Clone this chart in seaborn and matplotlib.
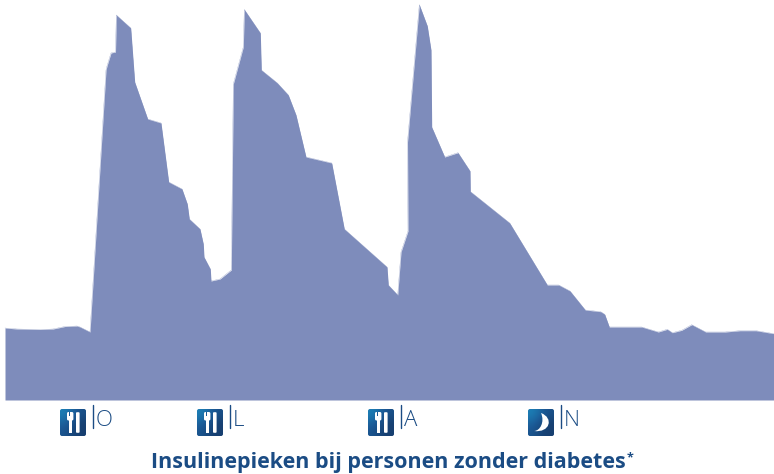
import numpy as np
import pandas as pd
import matplotlib
matplotlib.use('Agg')
import matplotlib.pyplot as plt
from matplotlib.patches import FancyBboxPatch, PathPatch, Rectangle
from matplotlib.path import Path
import seaborn as sns

# curve: time position and insulin level (no units in the source)
time_pos = [5, 17, 40, 53, 65, 77, 80, 90, 106, 107, 111, 115.5, 116.3, 130.7, 134.7, 147.7, 161,
            168.7, 182, 187.3, 189.3, 200, 203.3, 204, 210.3, 211, 220, 231.3, 233.3, 243.3, 244.3,
            260.3, 261.3, 277.3, 288.3, 296, 306, 331.7, 344.3, 387, 388.3, 397.7, 401, 408, 407.5,
            419.3, 427.3, 431, 431.7, 444.7, 458, 470, 470.3, 509.7, 547.3, 558.7, 570, 585.3,
            600.7, 604.7, 609.3, 641.7, 658.3, 667.3, 672.3, 681.7, 691.7, 705.7, 725, 740, 756, 774]
insulin = [72, 71, 70.5, 71, 73.5, 74, 73, 68, 330, 334, 347, 348, 385, 372, 318, 281, 277,
           218, 211, 196, 181, 171, 156, 143, 131, 119, 121, 130, 316, 353, 390.5,
           367, 330, 317, 305, 285, 243, 237, 171, 133, 115, 105, 148, 169, 258,
           395.3, 374, 350, 273, 243, 247.3, 229, 208.5, 177, 115, 115, 109, 90,
           88.3, 85.7, 73, 73, 68, 70.7, 67.3, 69.7, 75.3, 68, 68, 69.3, 69.3, 66.3]

meal_labels = ['O', 'L', 'A', 'N']
meal_icons = ['meal', 'meal', 'meal', 'moon']
icon_left = [60, 197, 368, 528]

title = 'Insulinepieken bij personen zonder diabetes'

fill_color = '#7e8cbb'
text_color = '#1b4c84'

sns.set_theme(style='white')
plt.rcParams['font.family'] = ['Open Sans', 'DejaVu Sans']

fig = plt.figure(figsize=(7.74, 4.74), dpi=100)

# chart area: level 0 sits at pixel row 400, level 400 at the top edge
ax = fig.add_axes([0, 74 / 474, 1, 400 / 474])
df = pd.DataFrame({'time': time_pos, 'insulin': insulin})
sns.lineplot(data=df, x='time', y='insulin', ax=ax, sort=False, estimator=None,
             color=fill_color, linewidth=0.2, zorder=1)
ax.fill_between(df['time'], df['insulin'], 0, color=fill_color, linewidth=0, zorder=2)
ax.set_xlim(0, 774)
ax.set_ylim(0, 400)
ax.axis('off')

# overlay in pixel coordinates for the icons and labels under the chart
over = fig.add_axes([0, 0, 1, 1])
over.axis('off')
over.patch.set_alpha(0)

gradient = np.array([[0.0, 0.35, 0.7], [0.35, 0.7, 1.0], [0.6, 0.9, 1.0]])
cmap = matplotlib.colors.LinearSegmentedColormap.from_list('icon', ['#1c7fb6', '#1b5a96', '#173f70'])


def draw_icon(left, kind):
    top, size_w, size_h = 409, 26, 27
    box = FancyBboxPatch((left + 1.5, top + 1.5), size_w - 3, size_h - 3,
                         boxstyle='round,pad=1.5,rounding_size=2', fc='none', ec='none')
    over.add_patch(box)
    im = over.imshow(gradient, cmap=cmap, extent=(left, left + size_w, top + size_h, top),
                     interpolation='bicubic', aspect='auto', zorder=2)
    im.set_clip_path(box)
    if kind == 'meal':
        # fork head, fork handle, knife
        over.add_patch(FancyBboxPatch((left + 7.5, top + 3.5), 5.4, 7.5, boxstyle='round,pad=0.5,rounding_size=1.5',
                                      fc='white', ec='none', zorder=3))
        over.add_patch(Rectangle((left + 8.5, top + 10), 3.4, 13.8, fc='white', ec='none', zorder=3))
        for dx in (9.1, 10.9):
            over.add_patch(Rectangle((left + dx, top + 3), 0.5, 3.5, fc='#1b5a96', ec='none', zorder=3))
        over.add_patch(FancyBboxPatch((left + 16.3, top + 3.5), 3, 20, boxstyle='round,pad=0.3,rounding_size=1',
                                      fc='white', ec='none', zorder=3))
    else:
        verts = [(left + 13, top + 4), (left + 26, top + 9), (left + 22, top + 24), (left + 6, top + 22),
                 (left + 12, top + 22), (left + 17, top + 13), (left + 13, top + 4)]
        codes = [Path.MOVETO] + [Path.CURVE4] * 6
        over.add_patch(PathPatch(Path(verts, codes), fc='white', ec='none', zorder=3))


for left, icon, label in zip(icon_left, meal_icons, meal_labels):
    draw_icon(left, icon)
    over.plot([left + 32.7, left + 32.7], [405, 428], color=text_color, linewidth=1.0)
    over.text(left + 35.5, 426.5, label, color=text_color, fontsize=16, fontweight='light',
              ha='left', va='baseline')

over.set_xlim(0, 774)
over.set_ylim(474, 0)
over.text(388.5, 468, title, color=text_color, fontsize=15.5, fontweight='bold', ha='center', va='baseline')
over.text(627, 461, '*', color=text_color, fontsize=9, fontweight='bold', ha='left', va='baseline')

fig.savefig('out.png', dpi=100)
